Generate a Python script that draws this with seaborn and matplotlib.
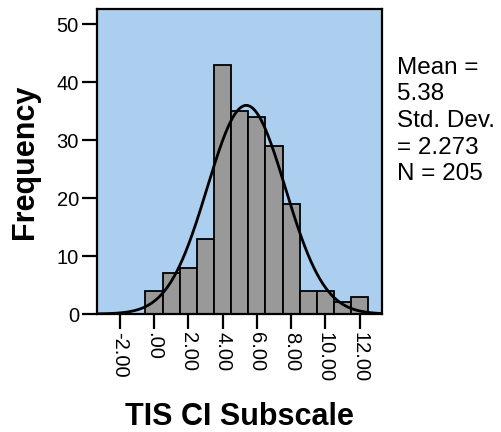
import numpy as np
import pandas as pd
import matplotlib
matplotlib.use("Agg")
import matplotlib.pyplot as plt
import seaborn as sns

# Histogram of TIS CI Subscale scores (bins of width 1 centred on integers)
bin_centers = [0, 1, 2, 3, 4, 5, 6, 7, 8, 9, 10, 11, 12]
counts = [4, 7, 8, 13, 43, 35, 34, 29, 19, 4, 4, 2, 3]

mean_val = 5.38
sd_val = 2.273
n_val = 205

x_ticks = [-2, 0, 2, 4, 6, 8, 10, 12]
x_tick_labels = ["-2.00", ".00", "2.00", "4.00", "6.00", "8.00", "10.00", "12.00"]
y_ticks = [0, 10, 20, 30, 40, 50]

sns.set_theme(style="ticks")
plt.rcParams["font.family"] = ["Liberation Sans", "DejaVu Sans"]
plt.rcParams.update({"text.color": "black", "axes.labelcolor": "black",
                     "xtick.color": "black", "ytick.color": "black"})

fig = plt.figure(figsize=(5.01, 4.32), dpi=100)
ax = fig.add_axes([97 / 501, 1 - 314 / 432, (382 - 97) / 501, (314 - 9) / 432])
ax.set_facecolor("#accff0")

df = pd.DataFrame({"score": bin_centers, "count": counts})
sns.histplot(data=df, x="score", weights="count", binwidth=1, binrange=(-0.5, 12.5),
             color="#999999", edgecolor="black", linewidth=1.3, alpha=1, ax=ax)

# Fitted normal curve scaled to counts
grid = np.linspace(-3.35, 13.3, 400)
pdf = n_val * 1.0 / (sd_val * np.sqrt(2 * np.pi)) * np.exp(-0.5 * ((grid - mean_val) / sd_val) ** 2)
sns.lineplot(x=grid, y=pdf, color="black", linewidth=2, ax=ax)

ax.set_xlim(-3.33, 13.3)
ax.set_ylim(0, 52.6)
ax.set_xticks(x_ticks)
ax.set_xticklabels(x_tick_labels, rotation=270, fontsize=14.5, color="black")
ax.set_yticks(y_ticks)
ax.set_yticklabels([str(v) for v in y_ticks], fontsize=14.5, color="black")
ax.tick_params(axis="both", direction="out", length=11, width=1.6, color="black", pad=2)

for s in ax.spines.values():
    s.set_visible(True)
    s.set_color("black")
    s.set_linewidth(1.6)

ax.set_xlabel("TIS CI Subscale", fontsize=22, fontweight="bold", labelpad=14, color="black")
ax.set_ylabel("Frequency", fontsize=22, fontweight="bold", labelpad=12, color="black")

stats_lines = ["Mean =", f"{mean_val:.2f}", "Std. Dev.", f"= {sd_val:.3f}", f"N = {n_val}"]
for i, line in enumerate(stats_lines):
    fig.text(397 / 501, 1 - (68 + i * 26.5) / 432, line, fontsize=17.5,
             ha="left", va="center", color="black")

fig.savefig("out.png", dpi=100)
